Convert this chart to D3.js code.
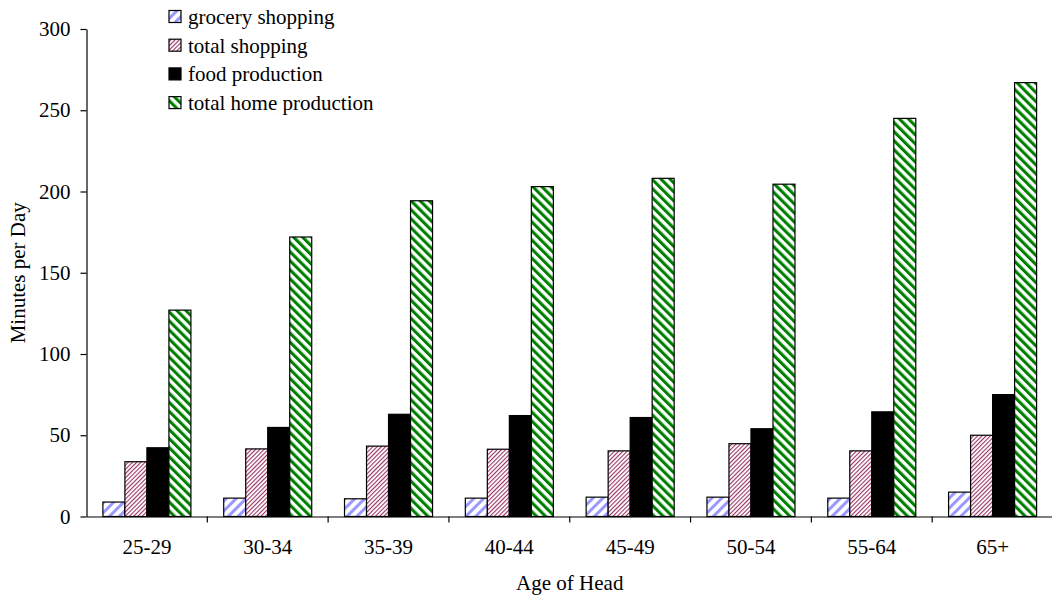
<!DOCTYPE html>
<html><head><meta charset="utf-8">
<script src="https://cdn.jsdelivr.net/npm/d3@7"></script>
<style>
html,body{margin:0;padding:0;background:#fff;}
svg text{font-family:"Liberation Serif","Times New Roman",Tinos,"DejaVu Serif",serif !important;}
</style></head>
<body>
<svg id="chart" width="1052" height="600"></svg>
<script>
const categories = ["25-29","30-34","35-39","40-44","45-49","50-54","55-64","65+"];
const seriesNames = ["grocery shopping","total shopping","food production","total home production"];
const grocery = [8.9, 11.3, 10.9, 11.3, 11.9, 11.9, 11.3, 15];
const totalShopping = [33.7, 41.6, 43.3, 41.4, 40.4, 44.8, 40.4, 50];
const foodProduction = [42.3, 54.8, 62.9, 62.1, 60.9, 54, 64.4, 75];
const totalHome = [127, 172, 194.3, 203, 208.1, 204.5, 245, 267];
const yTicks = [0, 50, 100, 150, 200, 250, 300];
const seriesValues = [grocery, totalShopping, foodProduction, totalHome];

(function () {
const FONT = 21;
const svg = d3.select("#chart");
const defs = svg.append("defs");

function stripe(id, color, period, width, angle) {
  const p = defs.append("pattern").attr("id", id)
    .attr("patternUnits", "userSpaceOnUse")
    .attr("width", period).attr("height", period)
    .attr("patternTransform", `rotate(${angle})`);
  p.append("rect").attr("width", period).attr("height", period).attr("fill", "#fff");
  p.append("rect").attr("x", 0).attr("y", 0).attr("width", width).attr("height", period).attr("fill", color);
}
stripe("pGrocery", "#9999ff", 7, 3, 45);
stripe("pShop", "#993366", 3, 1.1, 45);
stripe("pHome", "#008000", 6.4, 3.1, -45);
const fills = ["url(#pGrocery)", "url(#pShop)", "#000", "url(#pHome)"];

const mLeft = 86.5, mRight = 1053, mTop = 29, mBottom = 516.5;

const x0 = d3.scaleBand().domain(categories).range([mLeft, mRight]).paddingInner(0).paddingOuter(0);
const x1 = d3.scaleBand().domain(seriesNames).range([0, x0.bandwidth()]).paddingInner(0).paddingOuter(0.745);
const y = d3.scaleLinear().domain([0, 300]).range([mBottom, mTop]);

const data = [];
categories.forEach((c, i) => seriesNames.forEach((s, j) => data.push({c, s, j, v: seriesValues[j][i]})));
svg.append("g").selectAll("rect").data(data).join("rect")
  .attr("x", d => x0(d.c) + x1(d.s))
  .attr("y", d => y(d.v))
  .attr("width", x1.bandwidth())
  .attr("height", d => y(0) - y(d.v))
  .attr("fill", d => fills[d.j])
  .attr("stroke", "#000").attr("stroke-width", 1.2);

const yAxis = svg.append("g").attr("transform", `translate(${mLeft},0)`)
  .call(d3.axisLeft(y).tickValues(yTicks).tickSize(6).tickPadding(10).tickSizeOuter(0));
yAxis.attr("font-family", null).attr("font-size", null);
yAxis.select(".domain").attr("stroke", "#000").attr("stroke-width", 1.2);
yAxis.selectAll(".tick line").attr("stroke", "#000").attr("stroke-width", 1.2);
yAxis.selectAll("text").attr("font-size", FONT).attr("fill", "#000");

const xAxis = svg.append("g").attr("transform", `translate(0,${mBottom})`)
  .call(d3.axisBottom(x0).tickSize(0).tickPadding(23).tickSizeOuter(0));
xAxis.attr("font-family", null).attr("font-size", null);
xAxis.select(".domain").attr("stroke", "#000").attr("stroke-width", 1.2);
xAxis.selectAll("text").attr("font-size", FONT).attr("fill", "#000");
svg.append("g").selectAll("line").data(categories.slice(1)).join("line")
  .attr("x1", d => x0(d)).attr("x2", d => x0(d))
  .attr("y1", mBottom).attr("y2", mBottom + 6)
  .attr("stroke", "#000").attr("stroke-width", 1.2);

svg.append("text").attr("x", (mLeft + mRight) / 2).attr("y", 590)
  .attr("text-anchor", "middle").attr("font-size", FONT).text("Age of Head");
svg.append("text").attr("transform", `translate(25,${(mTop + mBottom) / 2}) rotate(-90)`)
  .attr("text-anchor", "middle").attr("font-size", FONT).text("Minutes per Day");

const lg = svg.append("g").selectAll("g").data(seriesNames).join("g")
  .attr("transform", (d, i) => `translate(169,${16.5 + i * 28.7})`);
lg.append("rect").attr("x", 0).attr("y", -6).attr("width", 12).attr("height", 12)
  .attr("fill", (d, i) => fills[i]).attr("stroke", "#000").attr("stroke-width", 1.2);
lg.append("text").attr("x", 19).attr("y", 0).attr("dy", "0.35em")
  .attr("font-size", FONT).text(d => d);
})();
</script>
</body></html>
